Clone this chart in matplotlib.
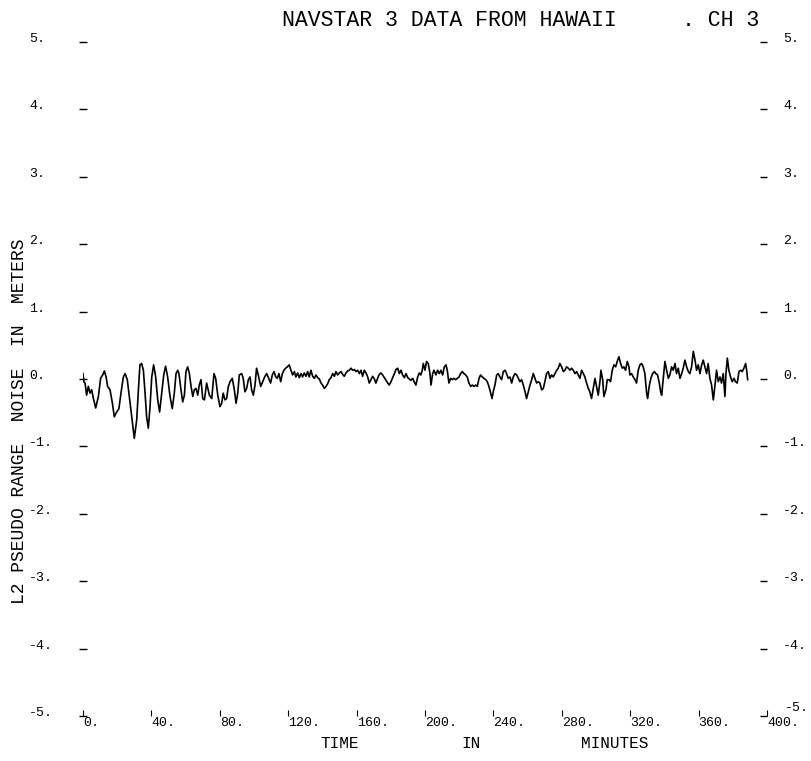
import matplotlib
matplotlib.use("Agg")
import matplotlib.pyplot as plt
from matplotlib.transforms import blended_transform_factory, offset_copy

# ---- data (time in minutes, noise in meters) ----
time_min = [
    0.0, 0.5, 1.2, 2.1, 3.1, 4.1, 5.1, 6.0, 7.4, 9.0, 10.3, 11.5, 12.5, 13.5, 14.4,
    15.8, 17.2, 18.3, 19.7, 21.0, 22.2, 23.6, 24.6, 25.9, 27.1, 28.5, 30.0, 31.4,
    32.4, 33.3, 34.3, 35.3, 36.3, 37.2, 38.2, 39.2, 40.2, 41.3, 42.5, 43.7, 44.8,
    46.0, 47.2, 48.3, 49.5, 50.9, 52.2, 53.4, 54.4, 55.4, 56.1, 57.3, 58.3, 59.3,
    60.2, 61.2, 62.2, 63.2, 64.2, 65.1, 66.1, 67.1, 68.0, 69.0, 70.0, 71.0,
    72.3, 73.9, 75.3, 76.6, 77.6, 78.8, 80.1, 81.1, 82.0, 83.0, 84.0, 85.0, 86.0,
    87.3, 88.5, 89.5, 90.5, 91.4, 92.8, 93.7, 94.7, 95.7, 96.7, 97.7,
    98.6, 99.6, 100.6, 101.5, 102.5, 103.9, 105.1, 106.2, 107.4, 108.6, 109.7,
    110.7, 111.7, 112.7, 113.6, 114.6, 115.6, 116.6, 117.5, 118.5, 119.5, 120.6,
    121.6, 122.6, 123.6, 124.5, 125.5, 126.5, 127.5, 128.4, 129.4, 130.4, 131.4,
    132.3, 133.3, 134.3, 135.3, 136.2, 137.2, 138.2, 139.2, 140.1, 141.1, 142.1,
    143.1, 144.0, 145.0, 146.0, 147.0, 147.9, 148.9, 149.9, 150.9, 151.8, 152.8,
    153.8, 154.8, 155.7, 156.7, 157.7, 158.7, 159.6, 160.6, 161.6, 162.6, 163.5,
    164.5, 165.5, 166.5, 167.4, 168.4, 169.4, 170.4, 171.3, 172.3, 173.3, 174.3,
    175.2, 176.2, 177.2, 178.2, 179.1, 180.1, 181.1, 182.1, 183.0, 184.0, 185.0,
    186.0, 186.9, 187.9, 188.9, 189.9, 190.8, 191.8, 192.8, 193.8, 194.7, 195.7,
    196.7,
    197.6, 198.4, 199.0, 200.0, 200.9, 201.9, 202.9, 203.5, 204.5, 205.2, 206.4,
    207.4, 208.4, 209.3, 210.3, 211.3, 212.3, 213.0, 214.0, 215.0, 216.0, 216.9,
    217.9, 218.9, 219.9, 220.8, 221.8, 222.8, 223.8, 224.7, 225.7, 226.7, 227.7,
    228.6, 229.6, 230.6, 231.6, 232.5, 233.5, 234.5, 235.5, 236.4, 237.4, 238.4,
    239.2, 239.9, 240.9, 241.9, 242.9, 243.8, 244.8, 245.8, 246.8, 247.7, 248.7,
    249.7, 250.7, 251.6, 252.6, 253.6, 254.6, 255.5, 256.5, 257.5, 258.5, 259.4,
    260.4, 261.4, 262.4, 263.3, 264.3, 265.3, 266.3, 267.2, 268.2, 269.2, 270.1,
    271.1, 272.1, 273.1, 274.0, 275.0, 276.0, 277.0, 277.9, 278.9, 279.9, 280.9,
    281.8, 282.8, 283.8, 284.8, 285.7, 286.7, 287.7, 288.7, 289.6, 290.6, 291.6,
    292.6, 293.5, 294.5, 295.5,
    296.4, 297.4, 298.4, 299.4, 300.3, 301.3, 302.3, 302.9, 303.9, 304.6, 305.8,
    306.6, 307.6, 308.5, 309.5, 310.5, 311.5, 312.4, 313.4, 314.4, 315.4, 316.3,
    317.3, 318.3, 319.3, 319.8, 320.8, 321.8, 322.8, 323.7, 324.7, 325.7, 326.7,
    327.6, 328.6, 329.6, 330.2, 331.1, 332.1, 333.1, 334.1, 335.0, 336.0, 337.0,
    337.8, 338.4, 339.3, 340.3, 341.3, 342.3, 343.2, 344.2, 345.2, 346.2, 347.1,
    348.1, 349.1, 350.1, 351.0, 352.0, 353.0, 354.0, 354.9, 355.9, 356.9, 357.9,
    358.8, 359.8, 360.8, 361.8, 362.7, 363.7, 364.7, 365.6, 366.6, 367.6, 368.6,
    369.5, 370.5, 371.5, 372.5, 373.4, 374.4, 375.4, 376.0, 376.8, 377.7, 378.7,
    379.7, 380.7, 381.6, 382.6, 383.6, 384.6, 385.5, 386.5, 387.5, 388.1, 388.7,
]
noise_m = [
    0.08, -0.04, -0.06, -0.24, -0.11, -0.21, -0.16, -0.28, -0.43, -0.26, 0.01, 0.06,
    0.12, 0.03, -0.11, -0.16, -0.36, -0.56, -0.49, -0.44, -0.21, 0.03, 0.08, -0.01,
    -0.26, -0.56, -0.88, -0.61, -0.16, 0.21, 0.23, 0.13, -0.21, -0.56, -0.73, -0.41,
    0.03, 0.21, 0.03, -0.31, -0.49, -0.21, 0.06, 0.19, 0.03, -0.26, -0.44, -0.21,
    0.08, 0.13, 0.08, -0.16, -0.34, -0.24, 0.11, 0.18, 0.08, -0.11, -0.26, -0.16,
    -0.14, -0.24, -0.09, -0.01, -0.29, -0.31,
    -0.06, -0.24, -0.29, 0.08, 0.01, -0.24, -0.41, -0.36, -0.21, -0.31, -0.29, -0.11,
    -0.04, 0.01, -0.16, -0.36, -0.21, 0.06, 0.08, 0.01, -0.19, -0.14, -0.01, 0.03,
    -0.16, -0.24, -0.09, 0.16, 0.06, -0.11, -0.04, 0.03, 0.08, 0.01, -0.06,
    0.06, 0.11, 0.03, 0.01, 0.08, -0.04, 0.08, 0.13, 0.16, 0.18, 0.21,
    0.13, 0.06, 0.11, 0.03, 0.09, 0.02, 0.08, 0.03, 0.09, 0.04, 0.11,
    0.03, 0.13, 0.04, 0.01, 0.06, 0.02, 0.00, -0.06, -0.09, -0.14, -0.11,
    -0.07, -0.01, 0.02, 0.08, 0.04, 0.11, 0.06, 0.09, 0.11, 0.07, 0.04,
    0.09, 0.12, 0.13, 0.16, 0.13, 0.14, 0.11, 0.13, 0.08, 0.13, 0.04,
    0.13, 0.09, 0.03, -0.06, -0.01, 0.04, 0.00, -0.06, 0.01, 0.07, 0.09,
    0.06, 0.02, -0.02, -0.06, -0.09, -0.04, 0.02, 0.08, 0.14, 0.16, 0.08,
    0.13, 0.06, 0.02, 0.08, 0.02, 0.00, -0.02, 0.01, -0.05, -0.09, 0.03,
    0.09,
    0.06, 0.13, 0.23, 0.13, 0.26, 0.23, 0.08, -0.09, 0.08, 0.13, 0.06,
    0.13, 0.08, 0.13, 0.06, 0.18, 0.21, 0.13, -0.06, 0.01, -0.01, 0.01,
    -0.01, 0.01, 0.03, 0.08, 0.11, 0.08, 0.06, 0.03, -0.06, -0.11, -0.09,
    -0.11, -0.09, -0.11, 0.01, 0.06, 0.03, 0.01, -0.01, -0.04, -0.11, -0.21,
    -0.29, -0.19, -0.09, 0.06, 0.08, 0.03, -0.01, 0.11, 0.13, 0.08, 0.01,
    0.03, -0.06, 0.03, 0.08, 0.06, 0.01, -0.04, -0.01, -0.09, -0.19, -0.29,
    -0.19, -0.09, -0.01, 0.08, 0.01, -0.06, -0.04, -0.06, -0.16, -0.14, -0.04,
    0.08, 0.11, 0.01, 0.06, 0.03, 0.08, 0.13, 0.16, 0.23, 0.18, 0.11,
    0.13, 0.18, 0.16, 0.13, 0.16, 0.13, 0.08, 0.11, 0.06, 0.01, 0.13,
    0.08, 0.03, -0.06, -0.14,
    -0.19, -0.29, -0.14, 0.01, -0.11, -0.24, -0.04, 0.13, -0.01, -0.26, -0.16,
    -0.01, -0.01, -0.04, 0.13, 0.21, 0.18, 0.26, 0.33, 0.23, 0.16, 0.18,
    0.13, 0.26, 0.18, 0.06, 0.08, 0.03, -0.01, -0.06, 0.13, 0.21, 0.23,
    0.18, 0.08, -0.21, -0.29, -0.11, 0.01, 0.08, 0.11, 0.08, 0.06, -0.06,
    -0.19, -0.24, -0.01, 0.26, 0.13, 0.01, 0.06, 0.18, 0.13, 0.23, 0.08,
    0.16, 0.01, 0.08, 0.16, 0.28, 0.18, 0.11, 0.08, 0.18, 0.41, 0.28,
    0.13, 0.21, 0.08, 0.21, 0.28, 0.18, 0.08, 0.23, 0.01, -0.09, -0.31,
    -0.11, 0.13, -0.04, 0.03, -0.06, 0.08, -0.26, 0.08, 0.31, 0.13, 0.03,
    -0.04, 0.01, -0.04, -0.06, 0.11, 0.13, 0.11, 0.16, 0.23, 0.13, -0.01,
]

x_ticks = [0, 40, 80, 120, 160, 200, 240, 280, 320, 360, 400]
x_tick_labels = ["0.", "40.", "80.", "120.", "160.", "200.", "240.", "280.",
                 "320.", "360.", "400."]
y_ticks = [5, 4, 3, 2, 1, 0, -1, -2, -3, -4, -5]
y_tick_labels = ["5.", "4.", "3.", "2.", "1.", "0.", "-1.", "-2.", "-3.",
                 "-4.", "-5."]
title_main = "NAVSTAR 3 DATA FROM HAWAII"
title_tail = ". CH 3"
y_label = "L2 PSEUDO RANGE  NOISE  IN  METERS"
x_label_words = ["TIME", "IN", "MINUTES"]

# ---- layout ----
W, H = 812, 761
MONO = ["Liberation Mono", "DejaVu Sans Mono"]

fig = plt.figure(figsize=(W / 100, H / 100), dpi=100)
fig.patch.set_facecolor("white")
ax = fig.add_axes([83 / W, 1 - 716 / H, (767 - 83) / W, (716 - 42) / H])
ax.plot(time_min, noise_m, color="black", lw=1.2)
ax.set_xlim(0, 400)
ax.set_ylim(-5, 5)
for s in ax.spines.values():
    s.set_visible(False)
ax.set_xticks(x_ticks)
ax.set_yticks(y_ticks)
ax.tick_params(axis="x", direction="in", length=4.5, width=0.8,
               labelbottom=False, color="black")
ax.tick_params(axis="y", direction="inout", length=6, width=1.0,
               labelleft=False, color="black")

ax2 = ax.twinx()
ax2.set_ylim(-5, 5)
ax2.set_yticks(y_ticks)
ax2.tick_params(axis="y", direction="in", length=5, width=1.0,
                labelright=False, color="black")
for s in ax2.spines.values():
    s.set_visible(False)

# y tick labels (left and right)
ty = blended_transform_factory(fig.transFigure, ax.transData)
ty_low_right = offset_copy(ty, fig=fig, x=2, y=5, units="dots")
for v, lab in zip(y_ticks, y_tick_labels):
    ax.text(29 / W, v, lab, transform=ty, ha="left", va="baseline",
            fontsize=9.5, family=MONO, color="black")
    ax.text(783 / W, v, lab,
            transform=(ty_low_right if v == y_ticks[-1] else ty),
            ha="left", va="baseline",
            fontsize=9.5, family=MONO, color="black")

# x tick labels
tx = blended_transform_factory(ax.transData, fig.transFigure)
for t, lab in zip(x_ticks, x_tick_labels):
    ax.text(t, 1 - 723 / H, lab, transform=tx, ha="left", va="center",
            fontsize=9.5, family=MONO, color="black")

# x axis label words
for word, xp in zip(x_label_words, [340, 471, 615]):
    fig.text(xp / W, 1 - 743 / H, word, ha="center", va="center",
             fontsize=11.5, family=MONO, color="black")

# y axis label
fig.text(20 / W, 1 - 421 / H, y_label, rotation=90, ha="center", va="center",
         fontsize=13, family=MONO, color="black")

# title
fig.text(282 / W, 1 - 20 / H, title_main, ha="left", va="center",
         fontsize=15.5, family=MONO, color="black")
fig.text(682 / W, 1 - 20 / H, title_tail, ha="left", va="center",
         fontsize=15.5, family=MONO, color="black")

fig.savefig("out.png", dpi=100, facecolor="white")
